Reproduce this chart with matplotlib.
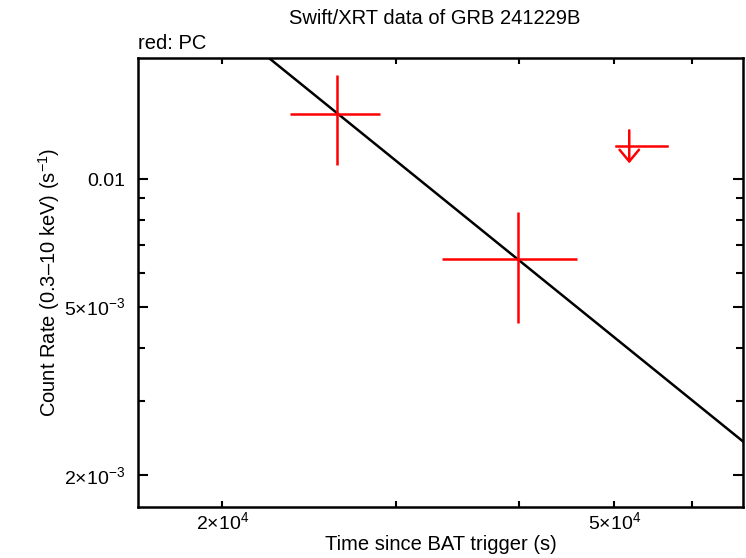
import numpy as np
import matplotlib
matplotlib.use("Agg")
import matplotlib.pyplot as plt
from matplotlib.ticker import FixedLocator, NullFormatter, FixedFormatter

plt.rcParams['font.family'] = ['Liberation Sans', 'DejaVu Sans']
plt.rcParams['mathtext.fontset'] = 'custom'
plt.rcParams['mathtext.rm'] = 'Liberation Sans'
plt.rcParams['mathtext.it'] = 'Liberation Sans'

# PC mode detections (time, rate, errors)
pc_t = [26170, 39870]
pc_t_lo = [23430, 33380]
pc_t_hi = [28920, 45810]
pc_rate = [0.01421, 0.006476]
pc_rate_lo = [0.010807, 0.004566]
pc_rate_hi = [0.01762, 0.00836]

# PC upper limit
ul_t = [51770]
ul_t_lo = [50140]
ul_t_hi = [56480]
ul_rate = [0.01196]
ul_top = [0.01303]
ul_tip = [0.01089]

# power-law model
model_norm = 0.006434
model_t0 = 4.0e4
model_index = 1.88

x_major = [2e4, 5e4]
x_major_labels = [r'2$\times$10$^{4}$', r'5$\times$10$^{4}$']
x_minor = [3e4, 4e4, 6e4]
y_major = [0.01, 5e-3, 2e-3]
y_major_labels = ['0.01', r'5$\times$10$^{-3}$', r'2$\times$10$^{-3}$']
y_minor = [9e-3, 8e-3, 7e-3, 6e-3, 4e-3, 3e-3]

fig = plt.figure(figsize=(7.46, 5.58), dpi=100)
ax = fig.add_axes([0.185, 0.091, 0.811, 0.805])
ax.set_xscale('log')
ax.set_yscale('log')
xmin, xmax = 16420, 67540
ax.set_xlim(xmin, xmax)
ax.set_ylim(0.001681, 0.0193)

# model line
tt = np.logspace(np.log10(xmin), np.log10(xmax), 200)
ax.plot(tt, model_norm * (tt / model_t0) ** (-model_index), color='black', lw=1.8, zorder=2)

# data points
t = np.array(pc_t)
r = np.array(pc_rate)
ax.errorbar(t, r,
            xerr=[t - np.array(pc_t_lo), np.array(pc_t_hi) - t],
            yerr=[r - np.array(pc_rate_lo), np.array(pc_rate_hi) - r],
            fmt='none', ecolor='red', elinewidth=1.8, capsize=0, zorder=3)

# upper limit
for tc, tl, th, rc, rt, rb in zip(ul_t, ul_t_lo, ul_t_hi, ul_rate, ul_top, ul_tip):
    ax.plot([tl, th], [rc, rc], color='red', lw=1.8, zorder=3)
    ax.annotate('', xy=(tc, rb), xytext=(tc, rt),
                arrowprops=dict(arrowstyle='->, head_length=0.6, head_width=0.5',
                                color='red', lw=1.8,
                                shrinkA=0, shrinkB=0, mutation_scale=14))

ax.xaxis.set_major_locator(FixedLocator(x_major))
ax.xaxis.set_major_formatter(FixedFormatter(x_major_labels))
ax.xaxis.set_minor_locator(FixedLocator(x_minor))
ax.xaxis.set_minor_formatter(NullFormatter())
ax.yaxis.set_major_locator(FixedLocator(y_major))
ax.yaxis.set_major_formatter(FixedFormatter(y_major_labels))
ax.yaxis.set_minor_locator(FixedLocator(y_minor))
ax.yaxis.set_minor_formatter(NullFormatter())

ax.tick_params(axis='both', which='both', direction='in', top=True, right=True,
               width=1.5, labelsize=14, colors='black')
ax.tick_params(axis='x', which='both', length=4, pad=3)
ax.tick_params(axis='y', which='major', length=7, pad=9)
ax.tick_params(axis='y', which='minor', length=5)
for s in ax.spines.values():
    s.set_linewidth(1.8)

ax.set_xlabel('Time since BAT trigger (s)', fontsize=14.5)
ax.xaxis.set_label_coords(0.5, -0.061)
ax.set_ylabel('Count Rate (0.3\u201310 keV) (s$^{-1}$)', fontsize=14.5)
ax.yaxis.set_label_coords(-0.126, 0.5)
fig.text(0.5825, 0.966, 'Swift/XRT data of GRB 241229B', ha='center', va='center', fontsize=14.5)
ax.text(0.0, 1.020, 'red: PC', transform=ax.transAxes, ha='left', va='baseline', fontsize=14.5)

fig.savefig('out.png', dpi=100)
